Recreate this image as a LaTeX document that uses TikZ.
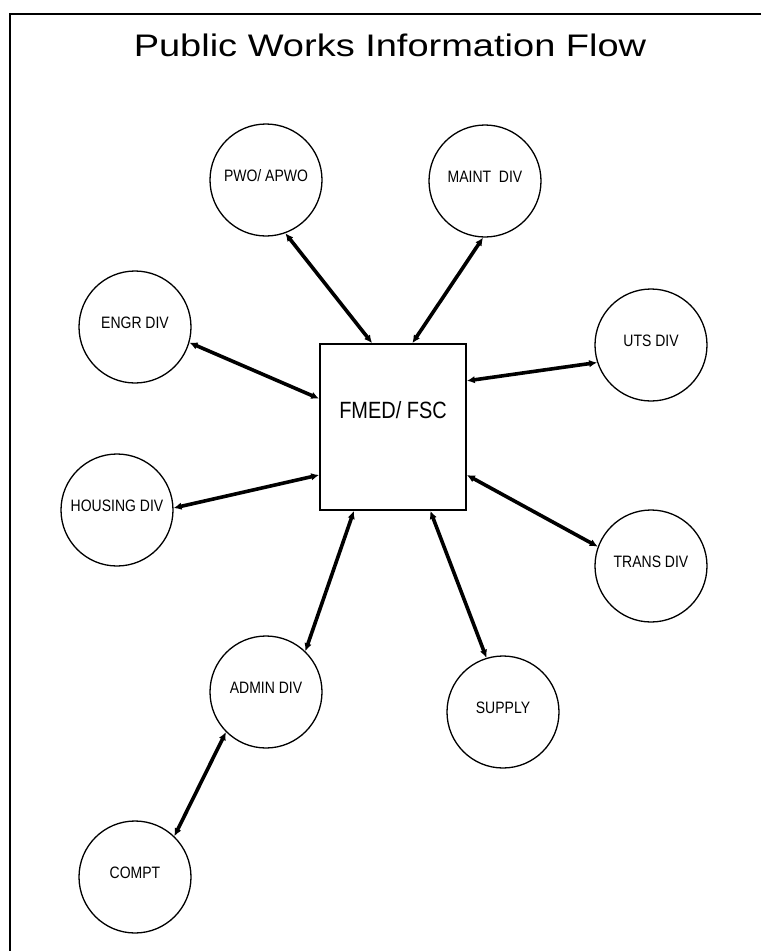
\documentclass[tikz,border=0pt]{standalone}
\usepackage{fontspec}
\usepackage{graphicx}
\setmainfont{Liberation Sans}
\usetikzlibrary{arrows.meta}
\newcommand{\tallA}[1]{\scalebox{1}[1.18]{#1}}
\tikzset{
  div/.style={circle, draw, line width=1.3pt, minimum size=112pt, inner sep=0pt},
  divlabel/.style={font=\fontsize{14}{16}\selectfont},
  hub/.style={rectangle, draw, line width=1.7pt, minimum width=146pt, minimum height=166pt, inner sep=0pt},
  flow/.style={line width=3.6pt, {Latex[length=8pt,width=7.5pt]}-{Latex[length=8pt,width=7.5pt]}},
  frame/.style={line width=2pt}
}
\begin{document}
\begin{tikzpicture}[x=1pt,y=-1pt]
\useasboundingbox (0,0) rectangle (761,951);
% frame
\coordinate (ftl) at (10,14);
\coordinate (ftr) at (761,14);
\coordinate (fbl) at (10,951);
\draw[frame] (ftr) -- (ftl) -- (fbl);
% title
\node (title) at (390,45) {\fontsize{38}{40}\selectfont\scalebox{1}[0.82]{Public Works Information Flow}};
% hub
\node[hub, label={[yshift=17pt,font=\fontsize{21}{24}\selectfont]center:\scalebox{0.95}[1.12]{FMED/ FSC}}] (box) at (393,427) {};
% divisions
\node[div, label={[yshift=4pt,divlabel]center:\tallA{PWO/ APWO}}] (pwo) at (266,180) {};
\node[div, label={[yshift=4pt,divlabel]center:\tallA{MAINT\ \ DIV}}] (maint) at (485,181) {};
\node[div, label={[yshift=4pt,divlabel]center:\tallA{ENGR DIV}}] (engr) at (135,327) {};
\node[div, label={[yshift=4pt,divlabel]center:\tallA{UTS DIV}}] (uts) at (651,345) {};
\node[div, label={[yshift=4pt,divlabel]center:\tallA{HOUSING DIV}}] (housing) at (117,510) {};
\node[div, label={[yshift=4pt,divlabel]center:\tallA{TRANS DIV}}] (trans) at (651,566) {};
\node[div, label={[yshift=4pt,divlabel]center:\tallA{ADMIN DIV}}] (admin) at (266,692) {};
\node[div, label={[yshift=4pt,divlabel]center:\tallA{SUPPLY}}] (supply) at (503,712) {};
\node[div, label={[yshift=4pt,divlabel]center:\tallA{COMPT}}] (compt) at (135,877) {};
% connectors
\draw[flow] (pwo.-70) -- (box.104);
\draw[flow] (maint.-92) -- (box.77);
\draw[flow] (engr.-16) -- (box.159);
\draw[flow] (uts.198) -- (box.32);
\draw[flow] (housing.2) -- (box.213);
\draw[flow] (trans.160) -- (box.-33);
\draw[flow] (supply.107) -- (box.-66);
\draw[flow] (admin.46) -- (box.-115);
\draw[flow] (admin.-135) -- (compt.46);
\end{tikzpicture}
\end{document}
